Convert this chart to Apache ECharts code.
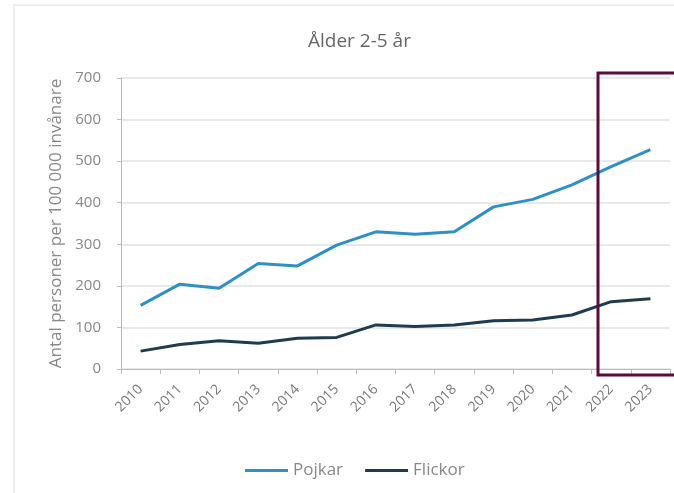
<!DOCTYPE html>
<html>
<head>
<meta charset="utf-8">
<script src="https://cdn.jsdelivr.net/npm/echarts@6/dist/echarts.min.js"></script>
<style>html,body{margin:0;padding:0;background:#fff}#c{width:674px;height:493px}</style>
</head>
<body>
<div id="c"></div>
<script>
const years = ['2010','2011','2012','2013','2014','2015','2016','2017','2018','2019','2020','2021','2022','2023'];
const pojkar = [153, 204, 194, 254, 248, 298, 330, 324, 330, 390, 408, 443, 487, 528];
const flickor = [43, 59, 68, 62, 74, 76, 106, 102, 106, 116, 118, 130, 162, 169];
const yTicks = [0, 100, 200, 300, 400, 500, 600, 700];

const chart = echarts.init(document.getElementById('c'));
const font = 'Open Sans';
chart.setOption({
  animation: false,
  backgroundColor: '#fff',
  textStyle: { fontFamily: font },
  title: {
    text: 'Ålder 2-5 år', left: 303, top: 27,
    textStyle: { fontFamily: font, fontSize: 19, fontWeight: 'normal', color: '#666' }
  },
  grid: { left: 121, right: 4, top: 78, bottom: 124 },
  legend: {
    bottom: 9, left: 240,
    icon: 'rect', itemWidth: 43, itemHeight: 3, itemGap: 22,
    textStyle: { fontFamily: font, fontSize: 17, color: '#888' },
    data: ['Pojkar', 'Flickor']
  },
  xAxis: {
    type: 'category', data: years, boundaryGap: true,
    axisLine: { lineStyle: { color: '#bbb' } },
    axisTick: { show: true, length: 5, lineStyle: { color: '#bbb' } },
    axisLabel: { rotate: 45, fontSize: 14, color: '#777', margin: 18, fontFamily: font }
  },
  yAxis: {
    type: 'value', min: yTicks[0], max: yTicks[yTicks.length - 1], interval: 100,
    name: 'Antal personer per 100 000 invånare', nameLocation: 'middle', nameGap: 54,
    nameTextStyle: { fontSize: 17, color: '#888', fontFamily: font },
    axisLine: { show: true, lineStyle: { color: '#bbb' } },
    axisTick: { show: true, length: 4, lineStyle: { color: '#bbb' } },
    axisLabel: { fontSize: 15, color: '#888', margin: 20, fontFamily: font },
    splitLine: { lineStyle: { color: '#e2e2e2', width: 1.5 } }
  },
  series: [
    { name: 'Pojkar', type: 'line', data: pojkar, symbol: 'none', lineStyle: { color: '#2f90c6', width: 3 }, itemStyle: { color: '#2f90c6' } },
    { name: 'Flickor', type: 'line', data: flickor, symbol: 'none', lineStyle: { color: '#1f3b52', width: 3 }, itemStyle: { color: '#1f3b52' } }
  ],
  graphic: [
    { type: 'rect', shape: { x: 14, y: 5, width: 680, height: 500 }, style: { fill: 'none', stroke: '#eeeeee', lineWidth: 2 }, silent: true },
    { type: 'rect', shape: { x: 598, y: 73, width: 90, height: 302 }, style: { fill: 'none', stroke: '#5a0c3c', lineWidth: 3 }, silent: true, z: 100 }
  ]
});
</script>
</body>
</html>
